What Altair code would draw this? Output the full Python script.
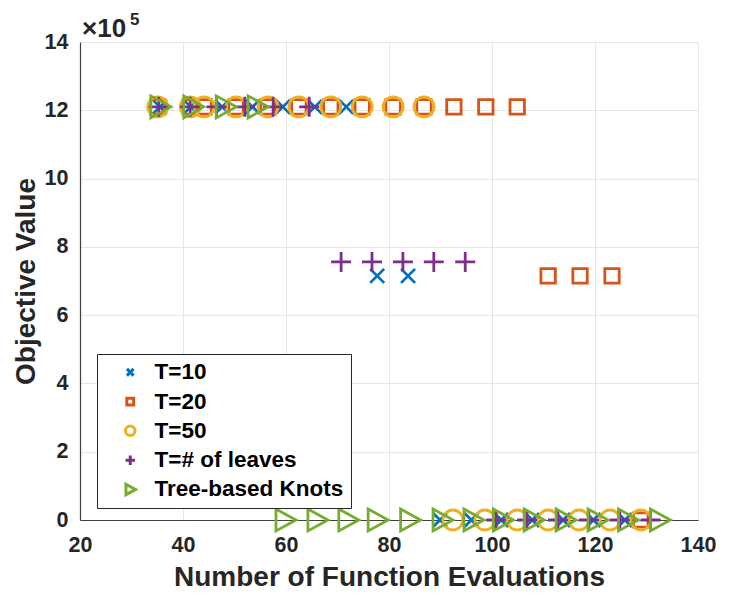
import altair as alt
import pandas as pd

series = ["T=10", "T=20", "T=50", "T=# of leaves", "Tree-based Knots"]
colors = ["#0072BD", "#D95319", "#EDB120", "#7E2F8E", "#77AC30"]

# values in units of 1e5
t10_x = [35.5, 41.5, 47.6, 53.5, 59.4, 65.6, 71.7, 77.7, 83.7,
         89.9, 96.0, 101.8, 107.8, 113.8, 119.7, 125.8]
t10_y = [12.1] * 7 + [7.15] * 2 + [0.0] * 7

t20_x = [35.1, 41.4, 44.1, 50.3, 56.5, 62.5, 68.7, 74.8, 80.8, 86.8,
         92.6, 98.8, 104.9, 110.9, 117.1, 123.3, 128.9]
t20_y = [12.1] * 13 + [7.15] * 3 + [0.0]

t50_x = [35.1, 41.4, 44.1, 50.3, 56.5, 62.5, 68.7, 74.8, 80.8, 86.8,
         92.4, 98.6, 104.9, 110.9, 116.9, 122.9, 128.9]
t50_y = [12.1] * 10 + [0.0] * 7

leaves_x = [35.3, 41.4, 46.5, 52.0, 57.5, 64.5,
            70.7, 76.7, 82.7, 88.7, 94.8,
            100.8, 106.8, 112.8, 118.8, 124.8, 130.8]
leaves_y = [12.1] * 6 + [7.56] * 5 + [0.0] * 6

tree_x = [35.5, 41.9, 48.2, 54.4,
          59.8, 66.0, 72.0, 77.7, 84.0, 90.3, 96.3, 102.0, 108.0,
          114.2, 120.4, 126.3, 132.5]
tree_y = [12.1] * 4 + [0.0] * 13

x_ticks = [20, 40, 60, 80, 100, 120, 140]
y_ticks = [0, 2, 4, 6, 8, 10, 12, 14]

rows = []
for name, xs, ys in zip(series,
                        [t10_x, t20_x, t50_x, leaves_x, tree_x],
                        [t10_y, t20_y, t50_y, leaves_y, tree_y]):
    for a, b in zip(xs, ys):
        rows.append({"series": name, "evals": a, "obj": b})
df = pd.DataFrame(rows)

shapes = [
    "M-0.7,-0.7L0.7,0.7M-0.7,0.7L0.7,-0.7",
    "M-0.72,-0.72L0.72,-0.72L0.72,0.72L-0.72,0.72Z",
    "circle",
    "M-1,0L1,0M0,-1L0,1",
    "M-0.9,-1.1L1.1,0L-0.9,1.1Z",
]

FONT = "Liberation Sans"

legend = alt.Legend(
    title=None, orient="none", legendX=17, legendY=312,
    fillColor="white", strokeColor="#262626", padding=7,
    labelFont=FONT, labelFontSize=22.5, labelFontWeight="bold", labelColor="black",
    symbolSize=90, symbolStrokeWidth=3, symbolOffset=15, labelOffset=13,
    rowPadding=6.3, labelLimit=400,
)

points = alt.Chart(df).mark_point(filled=False, size=400, strokeWidth=2.8, opacity=1).encode(
    x=alt.X("evals:Q", scale=alt.Scale(domain=[20, 140], nice=False),
            axis=alt.Axis(values=x_ticks, title="Number of Function Evaluations",
                          labelPadding=14, titlePadding=8, labelFlush=False)),
    y=alt.Y("obj:Q", scale=alt.Scale(domain=[0, 14], nice=False),
            axis=alt.Axis(values=y_ticks, title="Objective Value",
                          labelPadding=12, titlePadding=4, labelFlush=False)),
    color=alt.Color("series:N", scale=alt.Scale(domain=series, range=colors), legend=legend),
    shape=alt.Shape("series:N", scale=alt.Scale(domain=series, range=shapes), legend=legend),
)

exp_base = alt.Chart(pd.DataFrame({"t": ["×10"]})).mark_text(
    font=FONT, fontSize=26, fontWeight="bold", align="left", baseline="alphabetic", color="#262626"
).encode(x=alt.value(2), y=alt.value(-5), text="t:N")

exp_sup = alt.Chart(pd.DataFrame({"t": ["5"]})).mark_text(
    font=FONT, fontSize=17, fontWeight="bold", align="left", baseline="alphabetic", color="#262626"
).encode(x=alt.value(50), y=alt.value(-17), text="t:N")

chart = alt.layer(points, exp_base, exp_sup).properties(
    width=618, height=478,
    background="white",
    autosize=alt.AutoSizeParams(type="none"),
    padding={"left": 80, "top": 42, "right": 31, "bottom": 77},
).configure_view(stroke=None).configure_axis(
    labelFont=FONT, labelFontSize=21.5, labelFontWeight="bold", labelColor="#262626",
    titleFont=FONT, titleFontSize=28, titleFontWeight="bold", titleColor="#262626",
    gridColor="#e6e6e6", gridWidth=1, domainColor="#404040", domainWidth=1.2,
    ticks=False,
)

chart.save("out.html", embed_options={"renderer": "svg", "actions": False})
